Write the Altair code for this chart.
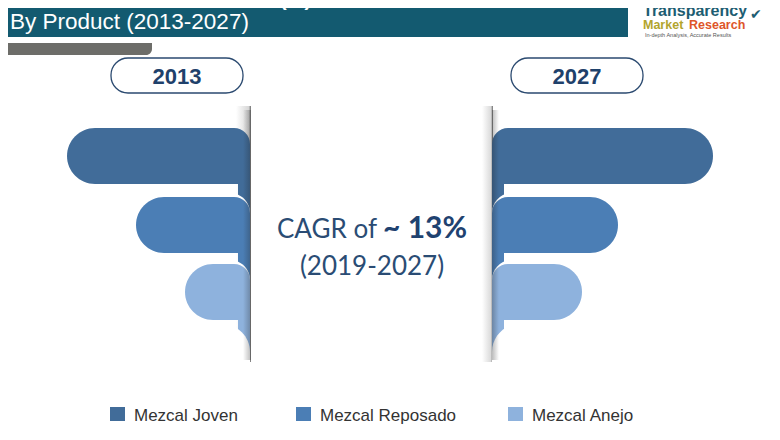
import altair as alt
import pandas as pd

# ---------------- data ----------------
products = ["Mezcal Joven", "Mezcal Reposado", "Mezcal Anejo"]
colors = ["#416c99", "#4b7eb5", "#8eb2dd"]
years = ["2013", "2027"]
# relative bar lengths (share index)
len_2013 = [183, 114, 65]
len_2027 = [221, 126, 90]
title_1 = "Global Mezcal Market Share (%)"
title_2 = "By Product (2013-2027)"
cagr_a = "CAGR of"
cagr_b = "~ 13%"
cagr_c = "(2019-2027)"

# ---------------- layout ----------------
W, H = 764, 424
OX, OY = 8, 8
LEFT_C, RIGHT_C = 250, 492
ROW_TOP = [128, 197, 264]
BAR_H = 56
PILL_X = [(111, 243), (511, 643)]
LEG_X = [110, 296, 508]

xs = alt.Scale(domain=[OX, OX + W], range=[0, W], nice=False, zero=False)
ys = alt.Scale(domain=[OY, OY + H], range=[0, H], nice=False, zero=False)
cs = alt.Scale(domain=products, range=colors)


def P(v):
    return v - OX


def X(f):
    return alt.X(f, type="quantitative", scale=xs, axis=None)


def Y(f):
    return alt.Y(f, type="quantitative", scale=ys, axis=None)


one = alt.Data(values=[{}])


def box(x0, x1, y0, y1, **kw):
    return alt.Chart(one).mark_rect(**kw).encode(
        x=alt.value(P(x0)), x2=alt.value(P(x1)), y=alt.value(P(y0)), y2=alt.value(P(y1)))


def txt(t, x, y, size, color, weight="normal", font="Liberation Sans", align="left"):
    return alt.Chart(one).mark_text(
        text=t, align=align, baseline="alphabetic", fontSize=size, font=font,
        fontWeight=weight, color=color).encode(x=alt.value(P(x)), y=alt.value(P(y)))


bars, tails, halos, phantoms = [], [], [], []
for yr, lens in (("2013", len_2013), ("2027", len_2027)):
    for i, p in enumerate(products):
        top = ROW_TOP[i]
        bot = top + BAR_H
        v = lens[i]
        if yr == "2013":
            x0, x1 = LEFT_C - v, LEFT_C
            tx0, tx1 = LEFT_C - 12, LEFT_C
        else:
            x0, x1 = RIGHT_C, RIGHT_C + v
            tx0, tx1 = RIGHT_C, RIGHT_C + 12
        bars.append(dict(year=yr, product=p, value=v, x0=x0, x1=x1, y0=top, y1=bot))
        tails.append(dict(year=yr, product=p, x0=tx0, x1=tx1, y0=bot - 10, y1=bot + 34))
        if i > 0:
            if yr == "2013":
                halos.append(dict(year=yr, x0=x0 - 4, x1=x1, y0=top - 4, y1=bot))
            else:
                halos.append(dict(year=yr, x0=x0, x1=x1 + 4, y0=top - 4, y1=bot))
        if i == len(products) - 1:
            if yr == "2013":
                phantoms.append(dict(year=yr, x0=LEFT_C - 120, x1=LEFT_C, y0=bot + 4, y1=bot + 60))
            else:
                phantoms.append(dict(year=yr, x0=RIGHT_C, x1=RIGHT_C + 120, y0=bot + 4, y1=bot + 60))

bars = pd.DataFrame(bars)
tails = pd.DataFrame(tails)
halos = pd.DataFrame(halos)
phantoms = pd.DataFrame(phantoms)


def rects(df, yr, **kw):
    return alt.Chart(df[df.year == yr]).mark_rect(**kw)


layers = []

# header
layers.append(box(0, 628, 0, 37, color="#135a70"))
layers.append(box(0, 152, 43, 55, color="#6d6d69", cornerRadiusBottomRight=12))
layers.append(txt(title_1, 10, 6, 20, "white", "bold"))
layers.append(txt(title_2, 10, 29, 22.5, "white"))
# logo
layers.append(txt("Transparency", 643, 16, 16, "#1d5d72", "bold"))
layers.append(txt("✔", 750, 19, 14, "#1d5d72", "bold", font="DejaVu Sans"))
layers.append(txt("Market", 643, 29, 12.5, "#b2a52c", "bold"))
layers.append(txt("Research", 689, 29, 12.5, "#de5529", "bold"))
layers.append(txt("In-depth Analysis, Accurate Results", 645, 37, 5.5, "#555555"))

# pills
for (a, b), yr in zip(PILL_X, years):
    layers.append(box(a, b, 58, 93, fill="white", stroke="#2b4a70", strokeWidth=1.3, cornerRadius=17))
    layers.append(txt(yr, (a + b) / 2, 84, 22, "#1f416b", "bold", align="center"))

# shadows behind panel edges
layers.append(box(236, 251, 106, 362, fill=alt.Gradient(
    gradient="linear", x1=0, x2=1, y1=0, y2=0,
    stops=[alt.GradientStop(color="rgba(90,90,90,0)", offset=0),
           alt.GradientStop(color="rgba(90,90,90,0.25)", offset=0.85),
           alt.GradientStop(color="rgba(40,40,40,0.7)", offset=1)])))
layers.append(box(482, 493, 106, 362, fill=alt.Gradient(
    gradient="linear", x1=0, x2=1, y1=0, y2=0,
    stops=[alt.GradientStop(color="rgba(90,90,90,0)", offset=0),
           alt.GradientStop(color="rgba(90,90,90,0.22)", offset=0.8),
           alt.GradientStop(color="rgba(40,40,40,0.7)", offset=1)])))

enc_box = dict(x=X("x0"), x2="x1", y=Y("y0"), y2="y1")
col = alt.Color("product:N", scale=cs, legend=None)

# tails, halos, bars
for yr in years:
    layers.append(rects(tails, yr).encode(color=col, **enc_box))
layers.append(rects(halos, "2013", color="white", cornerRadiusTopRight=20).encode(**enc_box))
layers.append(rects(halos, "2027", color="white", cornerRadiusTopLeft=20).encode(**enc_box))
layers.append(rects(phantoms, "2013", color="white", cornerRadiusTopRight=30).encode(**enc_box))
layers.append(rects(phantoms, "2027", color="white", cornerRadiusTopLeft=30).encode(**enc_box))
layers.append(rects(bars, "2013", cornerRadiusTopLeft=28, cornerRadiusBottomLeft=28,
                    cornerRadiusTopRight=16).encode(color=col, **enc_box))
layers.append(rects(bars, "2027", cornerRadiusTopRight=28, cornerRadiusBottomRight=28,
                    cornerRadiusTopLeft=16).encode(color=col, **enc_box))

# edge darkening over the inner ends of the bars
layers.append(box(243, 251, 110, 360, fill=alt.Gradient(
    gradient="linear", x1=0, x2=1, y1=0, y2=0,
    stops=[alt.GradientStop(color="rgba(30,30,30,0)", offset=0),
           alt.GradientStop(color="rgba(30,30,30,0.3)", offset=1)])))
layers.append(box(492, 499, 110, 360, fill=alt.Gradient(
    gradient="linear", x1=0, x2=1, y1=0, y2=0,
    stops=[alt.GradientStop(color="rgba(30,30,30,0.3)", offset=0),
           alt.GradientStop(color="rgba(30,30,30,0)", offset=1)])))

# CAGR annotation
layers.append(txt(cagr_a, 277, 238, 26, "#2a4c74", font="Lato"))
layers.append(txt(cagr_b, 383, 238, 30, "#1f4270", "bold", font="Lato"))
layers.append(txt(cagr_c, 372, 275, 26, "#2a4c74", font="Lato", align="center"))

# legend
leg = pd.DataFrame({"product": products, "sx": LEG_X})
leg["sx2"] = leg.sx + 15
leg["tx"] = leg.sx + 24
leg["y0"] = 407
leg["y1"] = 421
layers.append(alt.Chart(leg).mark_rect().encode(
    x=X("sx"), x2="sx2", y=Y("y0"), y2="y1", color=col))
layers.append(alt.Chart(leg).mark_text(
    align="left", baseline="alphabetic", fontSize=17, font="Liberation Sans", color="#333333"
).encode(x=X("tx"), y=Y("y1"), text="product:N"))

chart = alt.layer(*layers).properties(
    width=W, height=H, padding=0, autosize=alt.AutoSizeParams(type="none"), background="white"
).configure_view(stroke=None)

chart.save("out.html", embed_options={"renderer": "svg", "actions": False})
